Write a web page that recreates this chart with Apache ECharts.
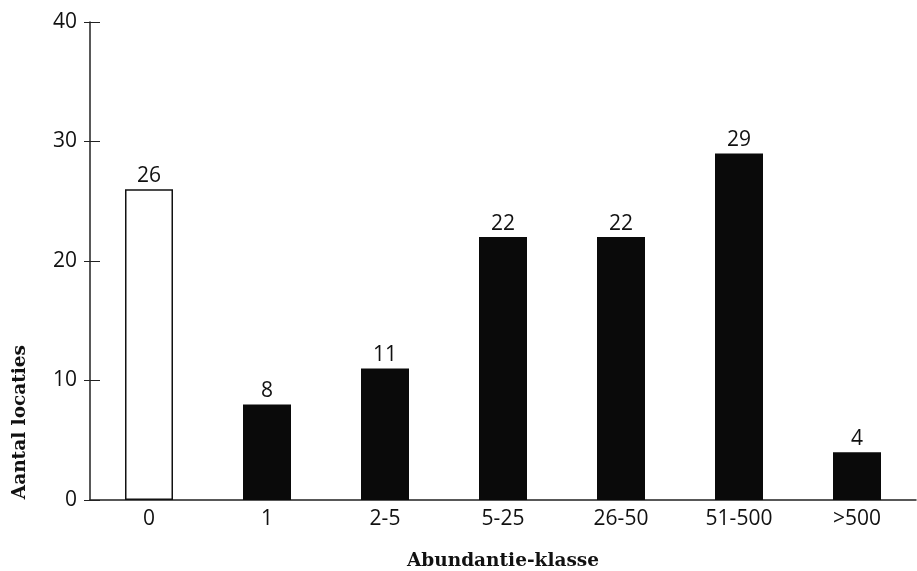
<!DOCTYPE html>
<html><head><meta charset="utf-8">
<script src="https://cdn.jsdelivr.net/npm/echarts@6/dist/echarts.min.js"></script>
<style>html,body{margin:0;padding:0;background:#fff}#c{width:917px;height:571px}</style>
</head><body><div id="c"></div>
<script>
const categories = ['0','1','2-5','5-25','26-50','51-500','>500'];
const values = [26, 8, 11, 22, 22, 29, 4];
const yTicks = [0, 10, 20, 30, 40];
const xTitle = 'Abundantie-klasse';
const yTitle = 'Aantal locaties';

const lbl = {fontFamily:'Open Sans', fontSize:21, color:'#111'};
const chart = echarts.init(document.getElementById('c'));
chart.setOption({
  animation:false,
  backgroundColor:'#fff',
  grid:{left:90, right:1, top:22, bottom:71, containLabel:false, outerBoundsMode:'none'},
  xAxis:{
    type:'category', data:categories, boundaryGap:true,
    axisLine:{lineStyle:{color:'#222', width:1.5}},
    axisTick:{inside:true, length:5, alignWithLabel:false, lineStyle:{color:'#222'}},
    axisLabel:Object.assign({margin:9}, lbl),
    name:xTitle, nameLocation:'middle', nameGap:52,
    nameTextStyle:{fontFamily:'DejaVu Serif', fontWeight:'bold', fontSize:18.5, color:'#111'}
  },
  yAxis:[{
    type:'value', min:yTicks[0], max:yTicks[yTicks.length-1], interval:10,
    splitLine:{show:false},
    axisLine:{show:true, lineStyle:{color:'#222', width:1.5}},
    axisTick:{show:true, length:6, lineStyle:{color:'#222'}},
    axisLabel:Object.assign({margin:13}, lbl)
  },{
    type:'value', position:'left', min:yTicks[0], max:yTicks[yTicks.length-1], interval:10,
    splitLine:{show:false}, axisLine:{show:false},
    axisTick:{show:true, inside:true, length:10, lineStyle:{color:'#222'}},
    axisLabel:{show:false}
  }],
  graphic:[{
    type:'text', left:11, top:345, rotation:Math.PI/2,
    style:{text:yTitle, fontFamily:'DejaVu Serif', fontWeight:'bold', fontSize:18.5, fill:'#111'}
  }],
  series:[{
    type:'bar', barWidth:48,
    data: values.map((v,i)=> i===0 ? {value:v, itemStyle:{color:'#fff', borderColor:'#111', borderWidth:1.5}} : {value:v, itemStyle:{color:'#0a0a0a'}}),
    label:Object.assign({show:true, position:'top', distance:3}, lbl)
  }]
});
</script></body></html>
